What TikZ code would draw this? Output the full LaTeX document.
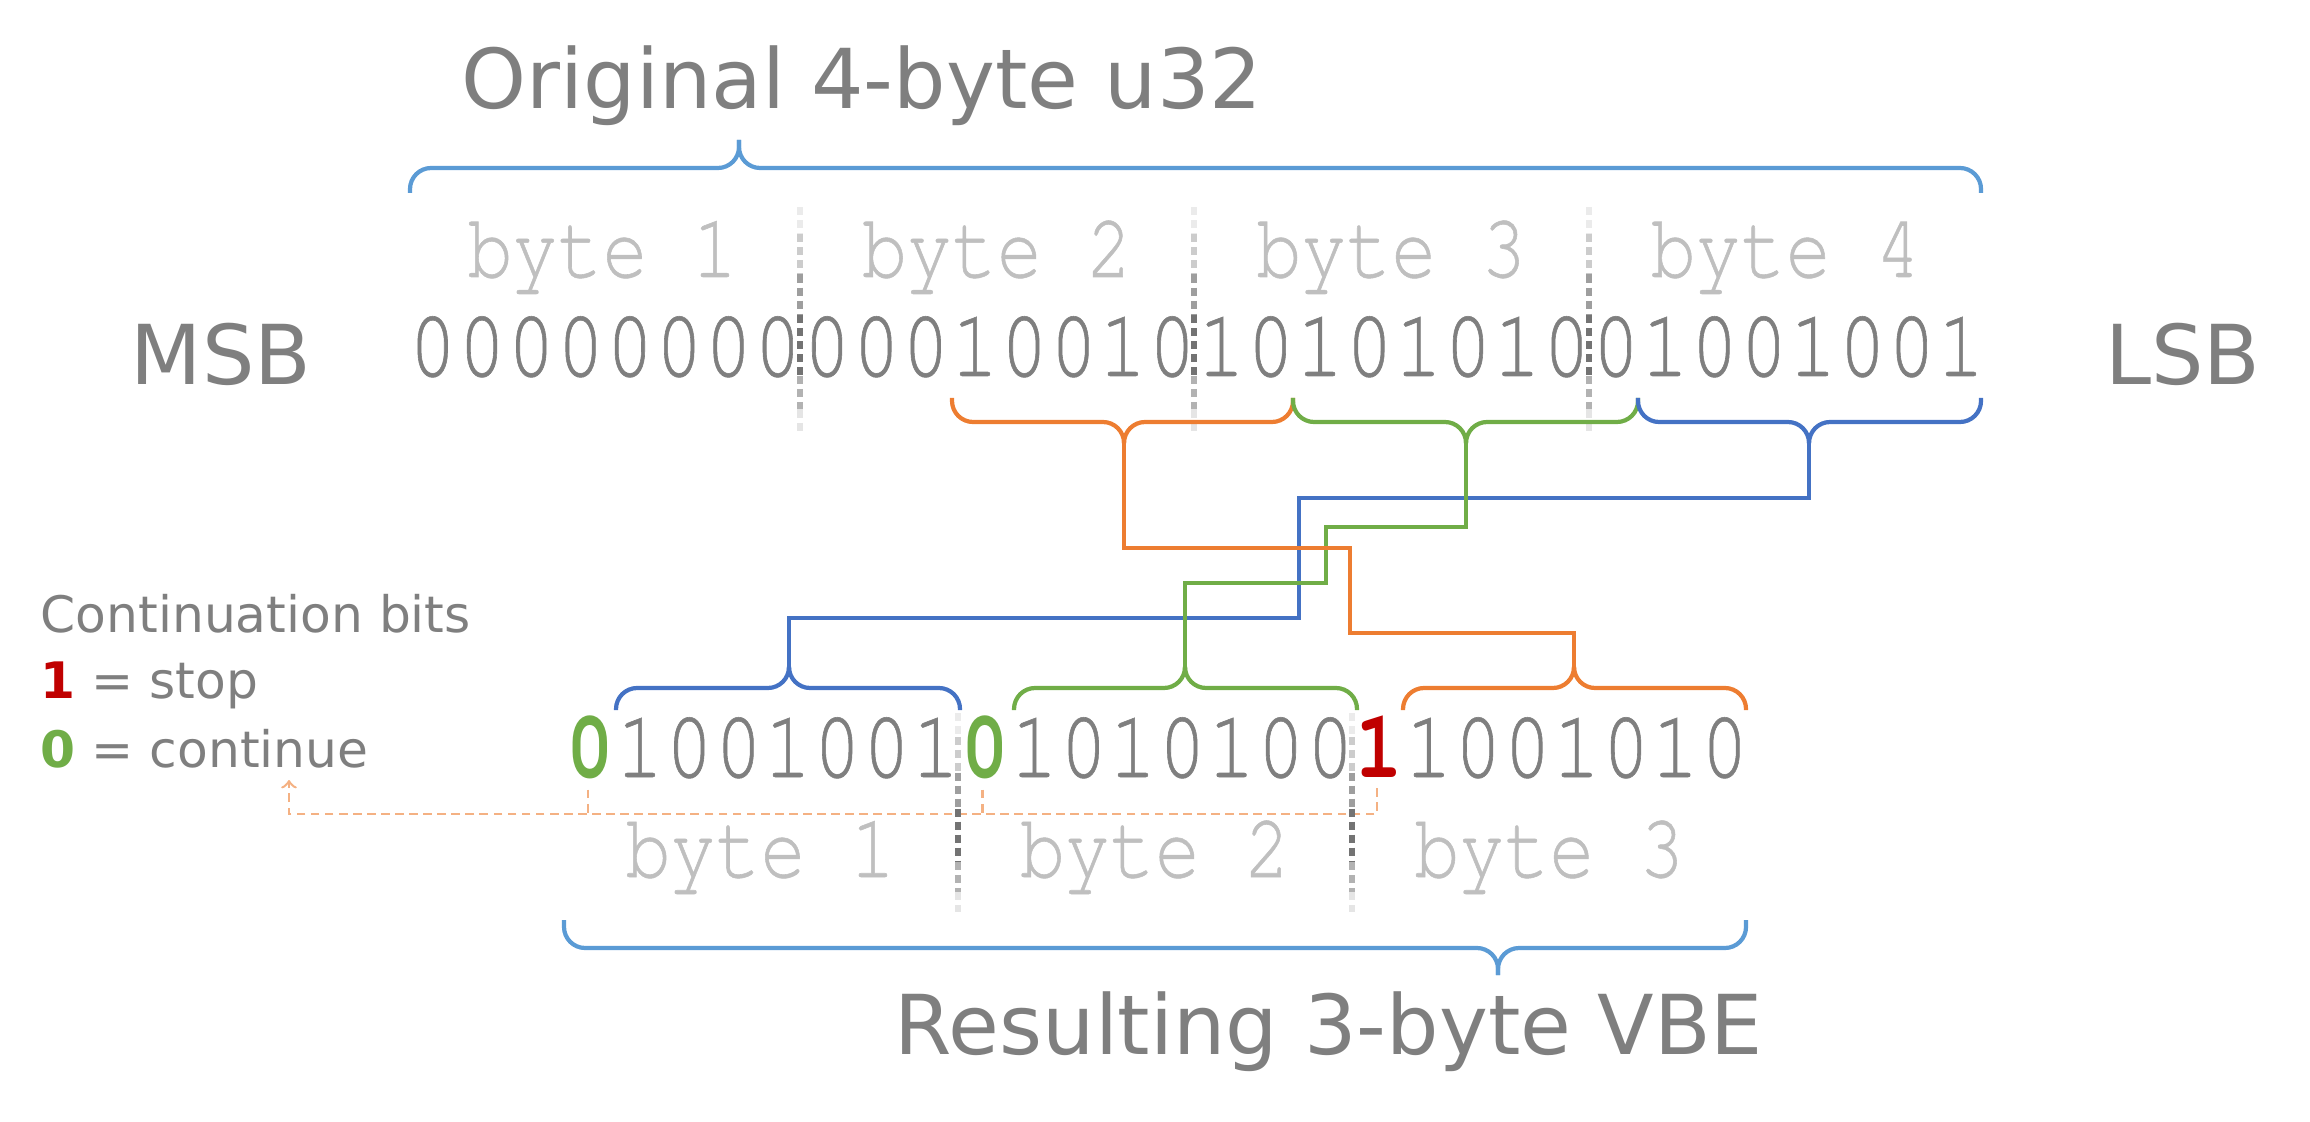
\documentclass[tikz,border=0pt]{standalone}
\usepackage{fontspec}
\newfontfamily\sansfont{DejaVu Sans}
\newfontfamily\bitfont[FakeStretch=0.82, FakeBold=0.6, BoldFont=texgyrecursor-bold.otf,
  BoldFeatures={FakeBold=0}]{texgyrecursor-regular.otf}

\definecolor{txtgray}{HTML}{7F7F7F}
\definecolor{bytegray}{HTML}{BFBFBF}
\definecolor{bigblue}{HTML}{5B9BD5}
\definecolor{bitorange}{HTML}{ED7D31}
\definecolor{bitgreen}{HTML}{70AD47}
\definecolor{bitblue}{HTML}{4472C4}
\definecolor{stopred}{HTML}{C00000}
\definecolor{hintorange}{HTML}{F4B183}

% curly brace: colour, left x, right x, tip x, end y, line y, tip y
\newcommand{\curly}[7]{%
  \draw[brace, #1] (#2,#5) -- (#2,#6) -- (#4,#6) -- (#4,#7);
  \draw[brace, #1] (#3,#5) -- (#3,#6) -- (#4,#6) -- (#4,#7);
}
% dotted byte separator, darker near the middle
\newcommand{\sepline}[3]{%
  \foreach \fa/\fb/\c in {0/.12/8, .12/.3/20, .3/.48/38, .48/.75/55, .75/.9/30, .9/1/10}
    \draw[sepdash, black!\c] (#1,{#2+(#3-#2)*\fa}) -- (#1,{#2+(#3-#2)*\fb});
}

\begin{document}
\begin{tikzpicture}[x=0.01cm, y=-0.01cm,
  bit/.style={font=\bitfont\fontsize{27.5}{30}\selectfont, text=txtgray, inner sep=0pt,
    text width=12pt, align=center, anchor=base},
  flagbit/.style={bit, font=\bitfont\bfseries\fontsize{27.5}{30}\selectfont},
  bytelabel/.style={font=\bitfont\fontsize{26}{30}\selectfont, text=bytegray, inner sep=0pt, anchor=base},
  heading/.style={font=\sansfont\fontsize{23.5}{28}\selectfont, text=txtgray, inner sep=0pt, anchor=base},
  legend/.style={font=\sansfont\fontsize{14.3}{17}\selectfont, text=txtgray, inner sep=0pt, anchor=base west},
  brace/.style={line width=1.2pt, rounded corners=6pt},
  link/.style={line width=1.2pt},
  sepdash/.style={line width=1.5pt, dash pattern=on 2.3pt off 1.4pt},
  hint/.style={hintorange, line width=0.7pt, dash pattern=on 2.5pt off 1.5pt}]
\useasboundingbox (0,0) rectangle (2310,1122);

\node[heading] (orig) at (862,109) {Original 4-byte u32};
\node[heading] (result) at (1329,1054) {Resulting 3-byte VBE};
\node[heading] (msb) at (221,385) {MSB};
\node[heading] (lsb) at (2183,385) {LSB};

% original u32 bits
\foreach \b [count=\k from 0] in {0,0,0,0,0,0,0,0, 0,0,0,1,0,0,1,0, 1,0,1,0,1,0,1,0, 0,1,0,0,1,0,0,1}
  \node[bit] (t\k) at ({430+49.3*\k},376) {\b};
\foreach \i in {1,...,4}
  \node[bytelabel] (tb\i) at ({430+49.3*(8*\i-4.5)},277) {byte \i};

% resulting VBE bits
\node[flagbit, text=bitgreen] (fa) at (588,777) {0};
\node[flagbit, text=bitgreen] (fb) at (982.4,777) {0};
\node[flagbit, text=stopred] (fc) at (1376.8,777) {1};
\foreach \b [count=\k] in {1,0,0,1,0,0,1}
  \node[bit] (ra\k) at ({588+49.3*\k},777) {\b};
\foreach \b [count=\k] in {1,0,1,0,1,0,0}
  \node[bit] (rb\k) at ({982.4+49.3*\k},777) {\b};
\foreach \b [count=\k] in {1,0,0,1,0,1,0}
  \node[bit] (rc\k) at ({1376.8+49.3*\k},777) {\b};
\foreach \i in {1,2,3}
  \node[bytelabel] (rl\i) at ({588+49.3*(8*\i-4.5)},877) {byte \i};

% legend
\node[legend] (legtitle) at (40,633) {Continuation bits};
\node[legend] (legstop) at (40,698) {{\bfseries\color{stopred}1} = stop};
\node[legend] (legcont) at (40,767) {{\bfseries\color{bitgreen}0} = continue};
\coordinate (hintend) at (289,780);
\draw[hint, ->] ([yshift=-3pt]fc.south) |- (289,814) -- (hintend);
\draw[hint] ([yshift=-3pt]fa.south) -- (fa.south |- 0,814);
\draw[hint] ([yshift=-3pt]fb.south) -- (fb.south |- 0,814);

% separators
\foreach \x in {800,1194,1589} \sepline{\x}{207}{432};
\foreach \x in {958,1352} \sepline{\x}{713}{912};

% braces
\curly{bigblue}{410}{1981}{739}{193}{168}{140}
\curly{bitorange}{952}{1293}{1124}{398}{422}{443}
\curly{bitgreen}{1293}{1638}{1466}{398}{422}{443}
\curly{bitblue}{1638}{1981}{1809}{398}{422}{443}
\curly{bitblue}{616}{960}{789}{710}{688}{673}
\curly{bitgreen}{1014}{1357}{1185}{710}{688}{673}
\curly{bitorange}{1403}{1746}{1574}{710}{688}{673}
\curly{bigblue}{564}{1746}{1498}{920}{948}{975}

% 7-bit groups moved down
\coordinate (otop) at (1124,443);
\coordinate (gtop) at (1466,443);
\coordinate (btop) at (1809,443);
\coordinate (obot) at (1574,673);
\coordinate (gbot) at (1185,673);
\coordinate (bbot) at (789,673);
\draw[link, bitblue] (btop) |- (1299,498) |- (789,618) -- (bbot);
\draw[link, bitgreen] (gtop) |- (1326,527) |- (1185,583) -- (gbot);
\draw[link, bitorange] (otop) |- (1350,548) |- (1574,633) -- (obot);
\end{tikzpicture}
\end{document}
